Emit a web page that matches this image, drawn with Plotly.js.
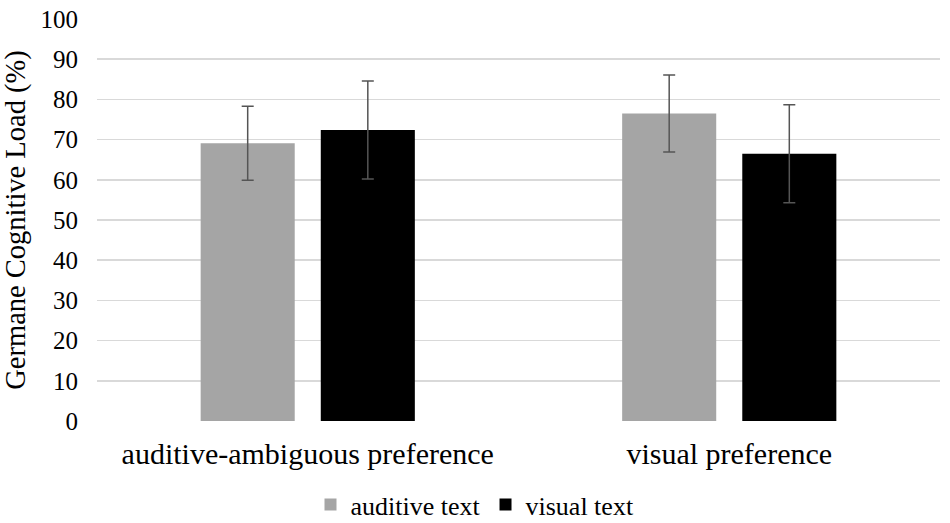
<!DOCTYPE html>
<html>
<head>
<meta charset="utf-8">
<script src="https://cdn.plot.ly/plotly-3.0.1.min.js"></script>
<style>
  html, body { margin: 0; padding: 0; background: #fff; }
  #chart { width: 950px; height: 523px; }
</style>
</head>
<body>
<div id="chart"></div>
<script>
const categories = ["auditive-ambiguous preference", "visual preference"];
const seriesNames = ["auditive text", "visual text"];
const auditiveText = [69.1, 76.5];
const auditiveErr = [9.2, 9.6];
const visualText = [72.4, 66.5];
const visualErr = [12.2, 12.2];
const yTicks = [0, 10, 20, 30, 40, 50, 60, 70, 80, 90, 100];

const FONT = "Liberation Serif, Times New Roman, serif";

const errStyle = (arr) => ({
  type: "data",
  array: arr,
  visible: true,
  color: "#555555",
  thickness: 1.5,
  width: 6,
});

const traces = [
  {
    type: "bar",
    name: seriesNames[0],
    x: categories,
    y: auditiveText,
    error_y: errStyle(auditiveErr),
    marker: { color: "#a5a5a5" },
  },
  {
    type: "bar",
    name: seriesNames[1],
    x: categories,
    y: visualText,
    error_y: errStyle(visualErr),
    marker: { color: "#000000" },
  },
];

const layout = {
  width: 950,
  height: 523,
  margin: { l: 97, r: 10, t: 19, b: 102 },
  paper_bgcolor: "#ffffff",
  plot_bgcolor: "#ffffff",
  barmode: "group",
  bargap: 0.43,
  bargroupgap: 0.217,
  font: { family: FONT, color: "#000000" },
  xaxis: {
    tickfont: { family: FONT, size: 30, color: "#000000" },
    showgrid: false,
    showline: false,
    ticks: "",
    ticklabelstandoff: 12,
  },
  yaxis: {
    range: [0, 100],
    tickvals: yTicks,
    tickfont: { family: FONT, size: 25, color: "#000000" },
    gridcolor: "#d9d9d9",
    gridwidth: 1.5,
    zeroline: false,
    showline: false,
    ticks: "",
    ticklabelstandoff: 18,
    title: {
      text: "Germane Cognitive Load (%)",
      font: { family: FONT, size: 28.5, color: "#000000" },
      standoff: 8,
    },
  },
  showlegend: true,
  legend: {
    orientation: "h",
    xref: "container",
    yref: "container",
    x: 0.5,
    xanchor: "center",
    y: 0.035,
    yanchor: "middle",
    font: { family: FONT, size: 26, color: "#000000" },
    itemwidth: 30,
    tracegroupgap: 0,
  },
};

Plotly.newPlot("chart", traces, layout, { displayModeBar: false, staticPlot: true });
</script>
</body>
</html>
